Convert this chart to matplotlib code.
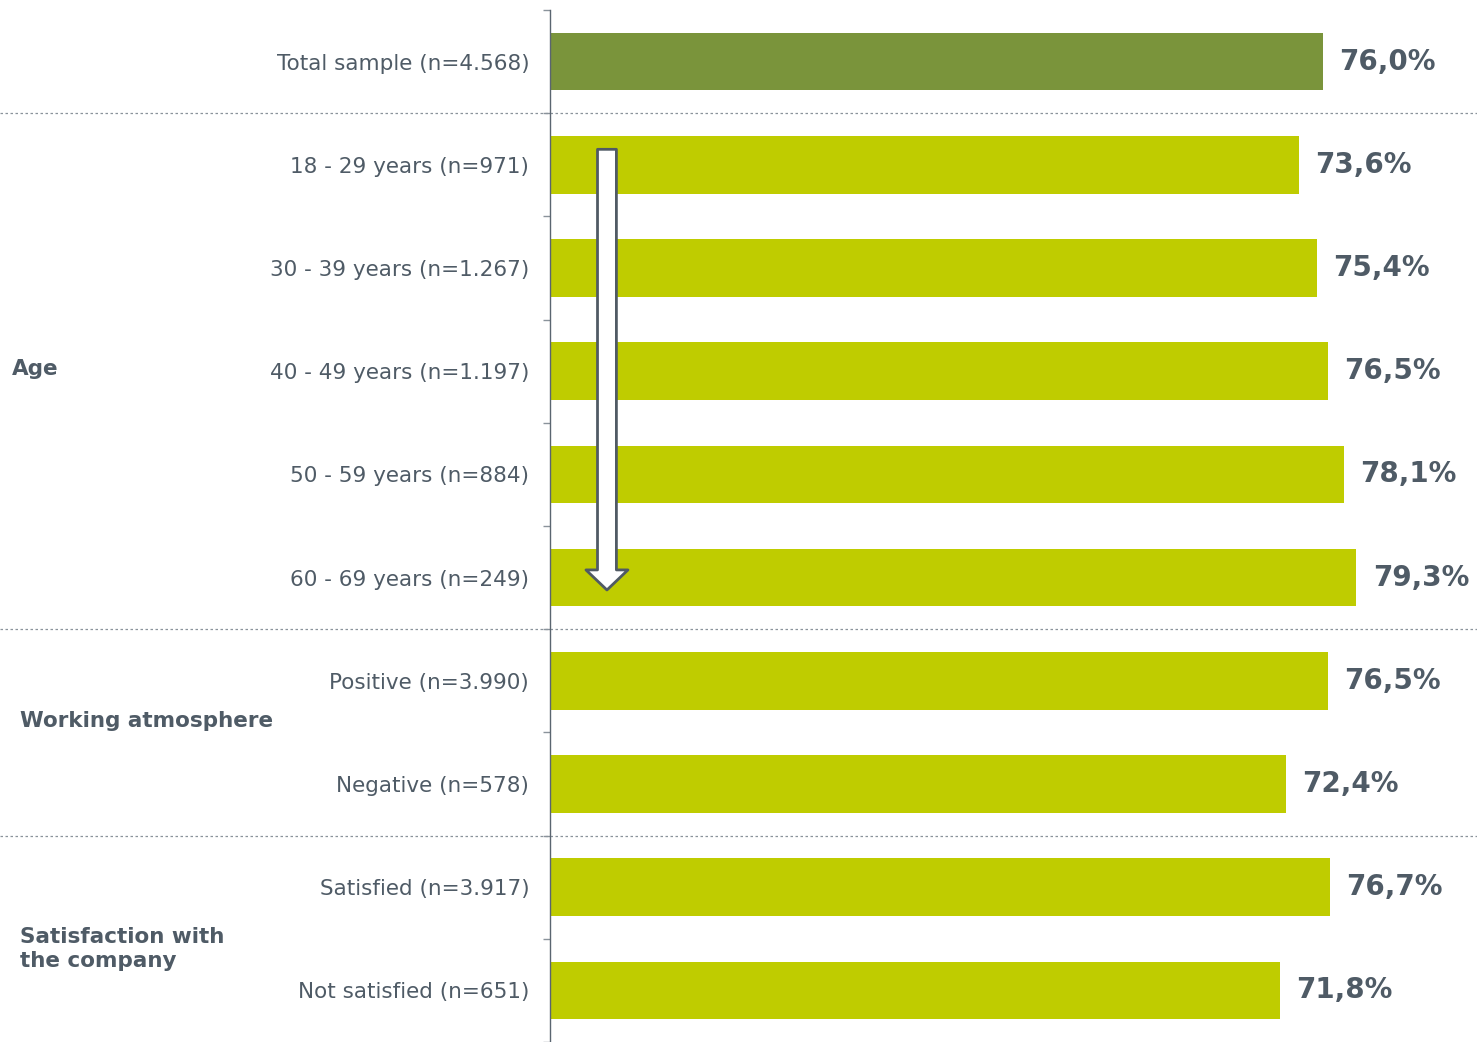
import matplotlib.pyplot as plt
import matplotlib.transforms as mtransforms
import numpy as np

# share of respondents (%) per group
labels = ["Total sample (n=4.568)", "18 - 29 years (n=971)", "30 - 39 years (n=1.267)",
          "40 - 49 years (n=1.197)", "50 - 59 years (n=884)", "60 - 69 years (n=249)",
          "Positive (n=3.990)", "Negative (n=578)",
          "Satisfied (n=3.917)", "Not satisfied (n=651)"]
values = [76.0, 73.6, 75.4, 76.5, 78.1, 79.3, 76.5, 72.4, 76.7, 71.8]
groups = ["Age", "Working atmosphere", "Satisfaction with\nthe company"]
group_pos = [2.98, 6.39, 8.6]
group_x = [12, 20, 20]  # pixels from left edge
separators = [0.5, 5.5, 7.5]

dark_green = "#7a943b"
lime = "#bfcc00"
text_col = "#4f5b66"

fig = plt.figure(figsize=(14.77, 10.42), dpi=100)
ax = fig.add_axes([550 / 1477, 0, 927 / 1477, 1 - 10 / 1042])

y = np.arange(len(values))
colors = [dark_green] + [lime] * (len(values) - 1)
ax.barh(y, values, height=0.56, color=colors)

ax.set_xlim(0, 927 / 10.17)
ax.set_ylim(len(values) - 0.5, -0.5)

for yi, v in zip(y, values):
    ax.text(v + 1.6, yi, f"{v:.1f}%".replace(".", ","), va="center", ha="left",
            fontsize=20, fontweight="bold", color=text_col)

ax.set_yticks(y)
ax.set_yticklabels(labels, fontsize=15.5, color=text_col)
ax.tick_params(axis="y", which="major", length=0, pad=15)
ax.set_yticks(np.arange(-0.5, len(values), 1), minor=True)
ax.tick_params(axis="y", which="minor", length=5, color="#8a939b", width=1)
ax.set_xticks([])

for s in ["top", "right", "bottom"]:
    ax.spines[s].set_visible(False)
ax.spines["left"].set_color("#5a6570")
ax.spines["left"].set_linewidth(1)

for sy in separators:
    ax.plot([-550 / 927, 1], [sy, sy], transform=ax.get_yaxis_transform(),
            clip_on=False, color="#8a939b", linestyle=(0, (2, 2)), linewidth=0.9)

trans = mtransforms.blended_transform_factory(fig.transFigure, ax.transData)
for g, gy, gx in zip(groups, group_pos, group_x):
    ax.text(gx / 1477, gy, g, transform=trans, fontsize=15.5, fontweight="bold",
            color=text_col, va="center", ha="left", linespacing=1.25)

# downward arrow across the age group
ax.annotate("", xy=(5.6, 5.12), xytext=(5.6, 0.85),
            arrowprops=dict(arrowstyle="simple,head_length=0.85,head_width=1.78,tail_width=0.8",
                            fc="white", ec="#505a64", lw=2, mutation_scale=17,
                            shrinkA=0, shrinkB=0))

fig.savefig("out.png", dpi=100)
